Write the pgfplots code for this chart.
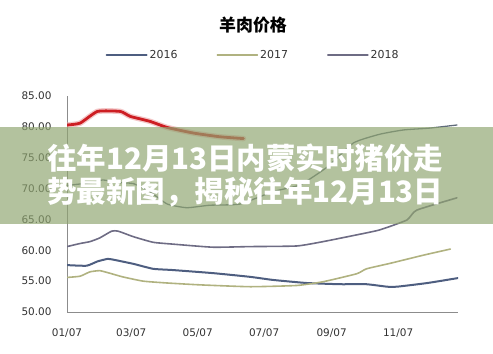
\documentclass[border=0pt]{standalone}
\usepackage{fontspec}
\setmainfont{DejaVu Sans}
\newfontfamily\cjk{Noto Sans CJK SC}
\usepackage{pgfplots}
\pgfplotsset{compat=1.18}
\definecolor{c16}{RGB}{78,94,128}
\definecolor{c17}{RGB}{176,178,128}
\definecolor{c18}{RGB}{110,108,132}
\definecolor{cx}{RGB}{95,107,122}
\definecolor{cred}{RGB}{205,30,35}
\definecolor{banner}{RGB}{143,165,112}
\definecolor{axgray}{RGB}{140,140,140}
\definecolor{txt}{RGB}{50,50,50}
\begin{document}
\begin{tikzpicture}[x=1bp,y=1bp]
\useasboundingbox (0,0) rectangle (493,353);
\begin{axis}[
  at={(67bp,41bp)}, anchor=south west,
  scale only axis, width=391bp, height=216bp,
  xmin=0, xmax=359, ymin=50, ymax=85,
  axis x line*=bottom, axis y line*=left,
  axis line style={-, draw=axgray, line width=1bp},
  major tick length=0pt,
  xtick={0,59,120,181,243,304},
  xticklabels={01/07,03/07,05/07,07/07,09/07,11/07},
  ytick={50,55,...,85},
  /pgf/number format/fixed, /pgf/number format/fixed zerofill,
  /pgf/number format/precision=2, /pgf/number format/assume math mode=true,
  ticklabel style={font=\fontsize{10.5}{12}\selectfont, text=txt},
  yticklabel style={xshift=-12bp},
  xticklabel style={yshift=-13bp},
  every axis plot/.append style={line join=round, line cap=round},
  legend style={at={(0.476,1.19)}, anchor=center, draw=none, fill=none,
    legend columns=3, font=\fontsize{11}{13}\selectfont, text=txt,
    /tikz/every even column/.append style={column sep=37bp}},
  legend image code/.code={\draw[#1] (0bp,0bp) -- (40bp,0bp);},
]
\addplot[c16, line width=2bp, smooth, tension=0.3] coordinates {
(0,57.6) (18,57.5) (28,58.2) (37,58.6) (42,58.5) (61,57.8) (79,57.0) (97,56.8)
(134,56.3) (168,55.7) (189,55.2) (220,54.7) (251,54.5) (275,54.5) (294,54.1)
(303,54.1) (331,54.7) (359,55.5)};
\addlegendentry{2016}
\addplot[c17, line width=1.6bp, smooth, tension=0.3] coordinates {
(0,55.6) (12,55.8) (21,56.5) (30,56.7) (39,56.3) (51,55.7) (70,55.0) (92,54.7)
(122,54.4) (168,54.1) (211,54.3) (235,54.9) (266,56.2) (275,57.0) (297,57.9)
(327,59.2) (352,60.2)};
\addlegendentry{2017}
\addplot[c18, line width=1.6bp, smooth, tension=0.3] coordinates {
(0,60.6) (12,61.1) (21,61.4) (30,62.0) (41,63.1) (47,63.1) (61,62.2) (79,61.3)
(97,61.0) (134,60.5) (168,60.6) (211,60.7) (235,61.4) (266,62.5) (287,63.3)
(312,64.9) (321,66.5) (358,68.5)};
\addlegendentry{2018}
\addplot[cx, line width=1.3bp, smooth, tension=0.3, forget plot] coordinates {
(0,70.5) (24,71.0) (33,71.4) (46,71.0) (61,70.8) (76,69.5) (92,67.5) (110,66.9)
(131,67.3) (159,67.5) (189,69.5) (214,70.6) (239,73.5) (263,77.4) (287,78.8)
(309,79.5) (333,79.8) (358,80.3)};
\addplot[cred!45, line width=5.5bp, opacity=0.55, smooth, tension=0.3, forget plot] coordinates {
(0,80.3) (12,80.6) (28,82.5) (49,82.5) (58,81.7) (76,80.9) (92,79.9) (116,79.0)
(140,78.4) (162,78.1)};
\addplot[cred, line width=2.8bp, smooth, tension=0.3, forget plot] coordinates {
(0,80.3) (12,80.6) (28,82.5) (49,82.5) (58,81.7) (76,80.9) (92,79.9) (116,79.0)
(140,78.4) (162,78.1)};
\end{axis}
\node[font=\cjk\bfseries\fontsize{17}{17}\selectfont, text=black] at (253,328) {羊肉价格};
\fill[banner, opacity=0.68] (0,129) rectangle (493,226);
\node[anchor=west, text=white, inner sep=0, font=\cjk\bfseries\fontsize{29.6}{30}\selectfont] at (47,195) {往年12月13日内蒙实时猪价走};
\node[anchor=west, text=white, inner sep=0, font=\cjk\bfseries\fontsize{29.6}{30}\selectfont] at (47,161) {势最新图，揭秘往年12月13日};
\end{tikzpicture}
\end{document}
